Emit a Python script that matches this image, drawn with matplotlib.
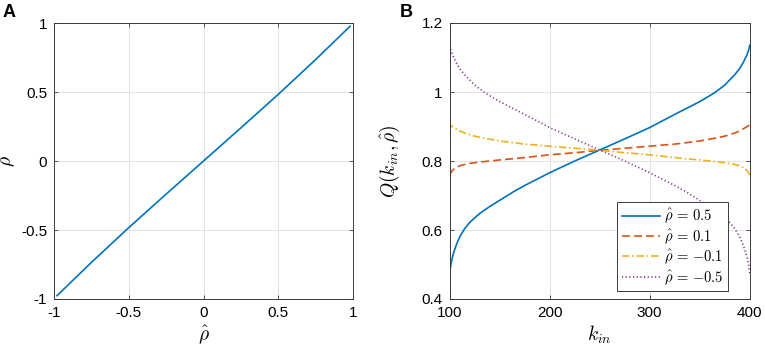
import numpy as np
import matplotlib.pyplot as plt

# panel A data: rho vs rho_hat
rho_hat = [-0.98, -0.75, -0.5, -0.25, 0.0, 0.25, 0.5, 0.75, 0.98]
rho = [-0.976, -0.735, -0.483, -0.24, 0.0, 0.24, 0.483, 0.735, 0.976]

# panel B data: Q(k_in, rho_hat)
k_in = [100, 101, 102, 104, 107, 110, 115, 120, 130, 140, 150, 165, 175, 200,
        225, 250, 275, 300, 325, 350, 365, 375, 385, 390, 394, 397, 399, 400]
k_in_rev = [400, 399, 398, 396, 393, 390, 385, 380, 370, 360, 350, 335, 325, 300,
            275, 250, 225, 200, 175, 150, 135, 125, 115, 110, 106, 103, 101, 100]
q_05 = [0.475, 0.497, 0.513, 0.535, 0.56, 0.58, 0.604, 0.622, 0.648, 0.668, 0.686,
        0.713, 0.729, 0.766, 0.80, 0.832, 0.864, 0.897, 0.935, 0.972, 0.998, 1.02,
        1.05, 1.068, 1.088, 1.106, 1.122, 1.135]
q_01 = [0.759, 0.765, 0.770, 0.776, 0.782, 0.786, 0.790, 0.793, 0.797, 0.800, 0.803,
        0.807, 0.810, 0.818, 0.824, 0.831, 0.837, 0.843, 0.849, 0.858, 0.866, 0.872,
        0.881, 0.887, 0.894, 0.899, 0.903, 0.906]
# the negative cases, on the reversed k grid
q_m01 = [0.759, 0.765, 0.770, 0.776, 0.782, 0.786, 0.790, 0.793, 0.797, 0.800, 0.803,
         0.807, 0.810, 0.818, 0.824, 0.831, 0.837, 0.843, 0.849, 0.858, 0.866, 0.872,
         0.881, 0.887, 0.894, 0.899, 0.903, 0.906]
q_m05 = [0.475, 0.497, 0.513, 0.535, 0.56, 0.58, 0.604, 0.622, 0.648, 0.668, 0.686,
         0.713, 0.729, 0.766, 0.80, 0.832, 0.864, 0.897, 0.935, 0.972, 0.998, 1.02,
         1.05, 1.068, 1.088, 1.106, 1.122, 1.135]
labels = [r'$\hat{\rho}\,=\,0.5$', r'$\hat{\rho}\,=\,0.1$',
          r'$\hat{\rho}\,=\,{-}0.1$', r'$\hat{\rho}\,=\,{-}0.5$']

plt.rcParams['font.family'] = ['Liberation Sans', 'DejaVu Sans']
plt.rcParams['mathtext.fontset'] = 'cm'
plt.rcParams['font.size'] = 11

fig = plt.figure(figsize=(7.65, 3.49), dpi=100)
axA = fig.add_axes([54/765, 50/349, 299/765, 276/349])
axB = fig.add_axes([449.7/765, 50/349, 300/765, 276/349])

def style(ax):
    ax.grid(True, color='#e3e3e3', lw=0.7)
    ax.set_axisbelow(True)
    for s in ax.spines.values():
        s.set_color('#3a3a3a')
        s.set_linewidth(0.7)
    ax.tick_params(direction='in', length=3, width=0.6, color='#3a3a3a',
                   top=True, right=True, labelsize=11, pad=5)

# panel A
axA.plot(rho_hat, rho, color='#0072BD', lw=1.2)
axA.set_xlim(-1, 1)
axA.set_ylim(-1, 1)
axA.set_xticks([-1, -0.5, 0, 0.5, 1])
axA.set_yticks([-1, -0.5, 0, 0.5, 1])
axA.set_xticklabels(['-1', '-0.5', '0', '0.5', '1'])
axA.set_yticklabels(['-1', '-0.5', '0', '0.5', '1'])
axA.set_xlabel(r'$\hat{\rho}$', fontsize=14, labelpad=3)
axA.set_ylabel(r'$\rho$', fontsize=14)
axA.yaxis.set_label_coords(-0.125, 0.5)
style(axA)

# panel B
axB.plot(k_in, q_05, color='#0072BD', lw=1.2, ls='-', label=labels[0])
axB.plot(k_in, q_01, color='#D95319', lw=1.2, ls=(0, (4.8, 2.4)), label=labels[1])
axB.plot(k_in_rev, q_m01, color='#EDB120', lw=1.2, ls=(0, (4.5, 1.6, 1, 1.6)), label=labels[2])
axB.plot(k_in_rev, q_m05, color='#7E2F8E', lw=1.2, ls=(0, (0.7, 1.5)), label=labels[3])
axB.set_xlim(100, 400)
axB.set_ylim(0.4, 1.2)
axB.set_xticks([100, 200, 300, 400])
axB.set_yticks([0.4, 0.6, 0.8, 1.0, 1.2])
axB.set_yticklabels(['0.4', '0.6', '0.8', '1', '1.2'])
axB.set_xlabel(r'$k_{in}$', fontsize=14, labelpad=3)
axB.set_ylabel(r'$Q(k_{in},\hat{\rho})$', fontsize=14)
axB.yaxis.set_label_coords(-0.16, 0.5)
style(axB)
leg = axB.legend(loc='lower right', bbox_to_anchor=(728/765, 58/349),
                 bbox_transform=fig.transFigure, borderaxespad=0,
                 fontsize=10.5, handlelength=2.6, handletextpad=0.3,
                 fancybox=False, framealpha=1, edgecolor='#3a3a3a',
                 labelspacing=0.12, borderpad=0.3)
leg.get_frame().set_linewidth(0.7)

fig.text(3/765, 1 - 17/349, 'A', fontsize=13, fontweight='bold')
fig.text(400/765, 1 - 17/349, 'B', fontsize=13, fontweight='bold')

fig.savefig('out.png', dpi=100)
